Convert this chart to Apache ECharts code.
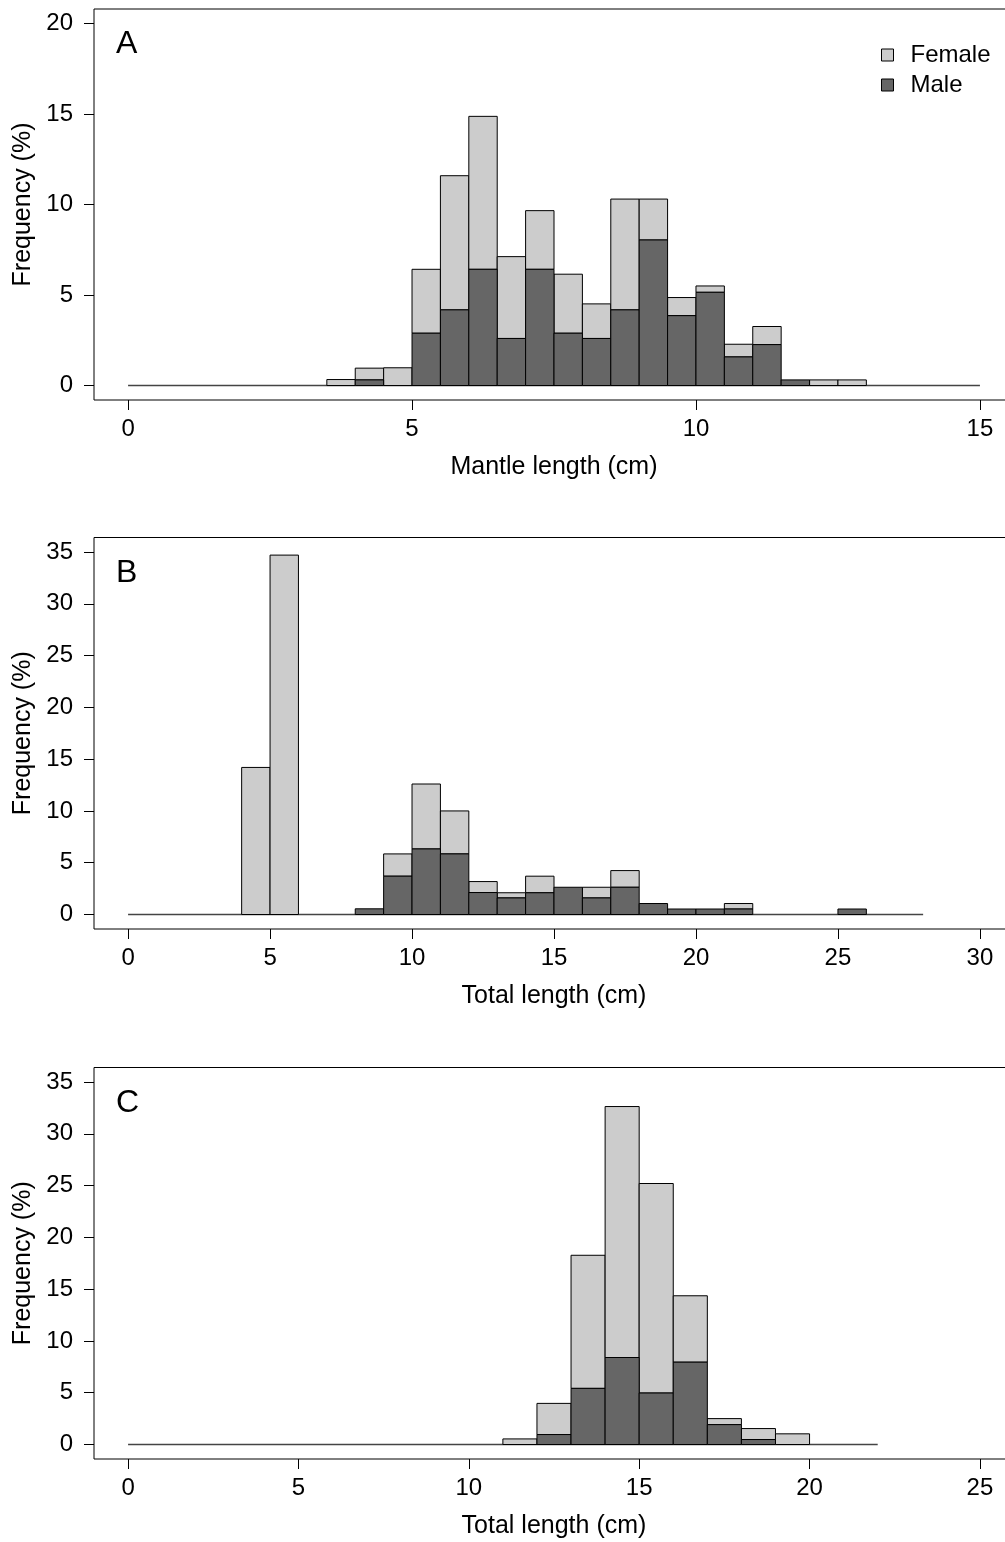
<!DOCTYPE html>
<html><head><meta charset="utf-8">
<script src="https://cdn.jsdelivr.net/npm/echarts@6/dist/echarts.min.js"></script>
<style>html,body{margin:0;padding:0;background:#fff;overflow:hidden;} #c{width:1020px;height:1542px;}</style>
</head><body><div id="c"></div>
<script>
// Panel A: mantle length, 0.5 cm bins (bin start values)
const binsA = [3.5,4,4.5,5,5.5,6,6.5,7,7.5,8,8.5,9,9.5,10,10.5,11,11.5,12,12.5];
const binWidthA = 0.5;
const maleA   = [0,0.31,0,2.89,4.18,6.42,2.6,6.42,2.89,2.6,4.18,8.04,3.86,5.15,1.58,2.26,0.31,0,0];
const femaleA = [0.33,0.65,0.98,3.53,7.41,8.45,4.52,3.24,3.26,1.91,6.12,2.26,1.0,0.35,0.7,1.0,0,0.31,0.31];
// Panel B: total length, 1 cm bins
const binsB = [4,5,6,7,8,9,10,11,12,13,14,15,16,17,18,19,20,21,22,23,24,25];
const binWidthB = 1;
const maleB   = [0,0,0,0,0.55,3.7,6.33,5.85,2.12,1.6,2.1,2.63,1.6,2.63,1.06,0.53,0.53,0.53,0,0,0,0.53];
const femaleB = [14.2,34.7,0,0,0,2.15,6.27,4.15,1.06,0.5,1.6,0,1.03,1.61,0,0,0,0.53,0,0,0,0];
// Panel C: total length, 1 cm bins
const binsC = [11,12,13,14,15,16,17,18,19];
const binWidthC = 1;
const maleC   = [0,0.96,5.42,8.4,4.97,7.95,1.92,0.48,0];
const femaleC = [0.54,3.01,12.85,24.23,20.23,6.41,0.58,1.06,1.03];
// baseline extents
const baselineA = [0,15];
const baselineB = [0,28];
const baselineC = [0,22];
// tick labels
const xTicksA = [0,5,10,15];
const yTicksA = [0,5,10,15,20];
const xTicksB = [0,5,10,15,20,25,30];
const yTicksB = [0,5,10,15,20,25,30,35];
const xTicksC = [0,5,10,15,20,25];
const yTicksC = [0,5,10,15,20,25,30,35];
const panelLetters = ['A','B','C'];
const xTitles = ['Mantle length (cm)','Total length (cm)','Total length (cm)'];
const yTitle = 'Frequency (%)';

const FONT = '"Liberation Sans", Arial, Helvetica, sans-serif';
const LIGHT = '#CCCCCC', DARK = '#666666';

const panels = [
  {bins:binsA, w:binWidthA, male:maleA, female:femaleA, base:baselineA, xt:xTicksA, yt:yTicksA, xr:[-0.6,15.6], yr:[-0.8,20.8], top:9, h:391},
  {bins:binsB, w:binWidthB, male:maleB, female:femaleB, base:baselineB, xt:xTicksB, yt:yTicksB, xr:[-1.2,31.2], yr:[-1.4,36.4], top:537.5, h:391.5},
  {bins:binsC, w:binWidthC, male:maleC, female:femaleC, base:baselineC, xt:xTicksC, yt:yTicksC, xr:[-1,26], yr:[-1.4,36.4], top:1067.5, h:391.5}
];

function barRender(params, api){
  const x0=api.value(0), x1=api.value(1), y0=api.value(2), y1=api.value(3);
  if (!(y1 - y0 > 0)) return null;
  const p0 = api.coord([x0,y1]);
  const p1 = api.coord([x1,y0]);
  return {type:'rect', shape:{x:p0[0], y:p0[1], width:p1[0]-p0[0], height:p1[1]-p0[1]},
          style:{fill: api.visual('color'), stroke:'#000', lineWidth:1}};
}

const grid=[], xAxis=[], yAxis=[], series=[], graphic=[];
panels.forEach((p,i)=>{
  grid.push({left:94, top:p.top, width:920, height:p.h, show:true, borderColor:'#000', borderWidth:1, backgroundColor:'transparent'});
  xAxis.push({gridIndex:i, type:'value', min:p.xr[0], max:p.xr[1],
    axisLine:{show:false, onZero:false}, splitLine:{show:false},
    axisTick:{show:true, inside:false, length:10, customValues:p.xt, lineStyle:{color:'#000', width:1}},
    axisLabel:{customValues:p.xt, margin:17, fontSize:24, color:'#000', fontFamily:FONT},
    name:xTitles[i], nameLocation:'middle', nameGap:55,
    nameTextStyle:{fontSize:25, color:'#000', fontFamily:FONT}});
  yAxis.push({gridIndex:i, type:'value', min:p.yr[0], max:p.yr[1],
    axisLine:{show:false, onZero:false}, splitLine:{show:false},
    axisTick:{show:true, inside:false, length:10, customValues:p.yt, lineStyle:{color:'#000', width:1}},
    axisLabel:{customValues:p.yt, margin:21, fontSize:24, color:'#000', fontFamily:FONT},
    name:yTitle, nameLocation:'middle', nameGap:57, nameRotate:90,
    nameTextStyle:{fontSize:25, color:'#000', fontFamily:FONT}});
  series.push({type:'line', xAxisIndex:i, yAxisIndex:i, data:p.base.map(x=>[x,0]), symbol:'none', silent:true,
    lineStyle:{color:'#444', width:1.5}, z:1});
  series.push({type:'custom', name:'Male', xAxisIndex:i, yAxisIndex:i, renderItem:barRender,
    itemStyle:{color:DARK, borderColor:'#000', borderWidth:1}, encode:{x:[0,1], y:[2,3]}, z:3,
    data:p.bins.map((b,k)=>[b, b+p.w, 0, p.male[k]])});
  series.push({type:'custom', name:'Female', xAxisIndex:i, yAxisIndex:i, renderItem:barRender,
    itemStyle:{color:LIGHT, borderColor:'#000', borderWidth:1}, encode:{x:[0,1], y:[2,3]}, z:2,
    data:p.bins.map((b,k)=>[b, b+p.w, p.male[k], p.male[k]+p.female[k]])});
  graphic.push({type:'text', x:116, y:p.top+35.5, style:{text:panelLetters[i], font:'32px '+FONT, fill:'#000', verticalAlign:'middle'}});
});

const chart = echarts.init(document.getElementById('c'), null, {renderer:'canvas'});
chart.setOption({
  animation:false,
  grid, xAxis, yAxis, series, graphic,
  legend:{orient:'vertical', left:881, top:43, padding:0, itemWidth:12, itemHeight:12, itemGap:6, selectedMode:false,
    textStyle:{fontSize:24, color:'#000', fontFamily:FONT, padding:[0,0,0,12]},
    data:[
      {name:'Female', icon:'rect', itemStyle:{color:LIGHT, borderColor:'#000', borderWidth:1}},
      {name:'Male', icon:'rect', itemStyle:{color:DARK, borderColor:'#000', borderWidth:1}}
    ]}
});
</script></body></html>
